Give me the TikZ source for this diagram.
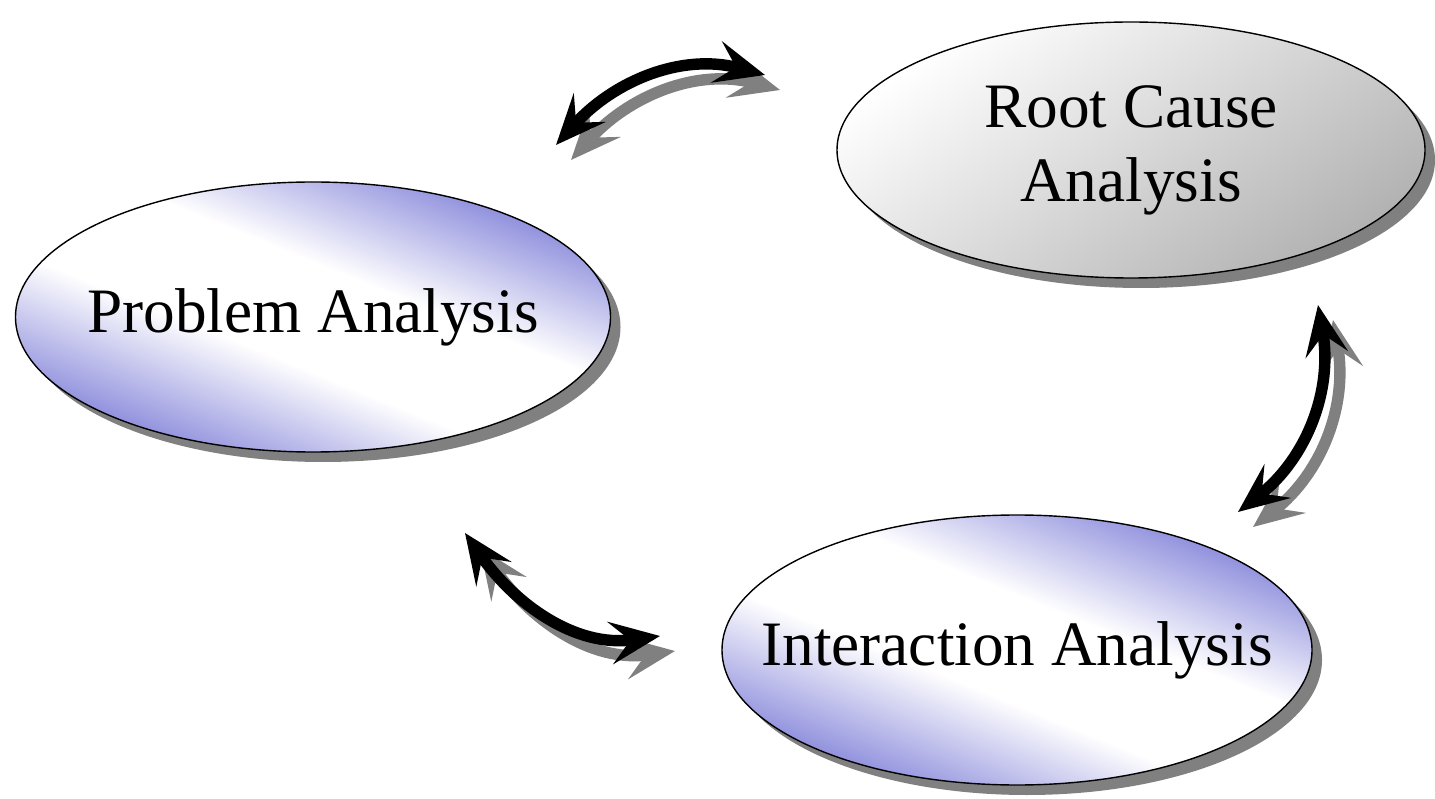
\documentclass[tikz,border=0pt]{standalone}
\usepackage{fontspec}
\setmainfont{Liberation Serif}
\usetikzlibrary{arrows.meta,shapes.geometric,shadows}

\definecolor{phaseblue}{RGB}{112,112,212}

\pgfdeclareverticalshading{phaseband}{100bp}{color(0bp)=(phaseblue); color(22bp)=(phaseblue);
	color(43bp)=(white); color(57bp)=(white); color(78bp)=(phaseblue); color(100bp)=(phaseblue)}

\tikzset{
	phase/.style={ellipse, draw=black, line width=0.8pt, inner sep=0pt,
		font=\fontsize{36}{42}\selectfont,
		drop shadow={shadow xshift=0.2cm, shadow yshift=-0.2cm, fill=black!50, opacity=1}},
	blue phase/.style={phase, shading=phaseband, shading angle=-22},
	grey phase/.style={phase, shading=axis, top color=white, bottom color=black!30, shading angle=35},
	link/.style={line width=6.5pt,
		{Stealth[length=1cm, width=0.85cm, inset=0.4cm]}-{Stealth[length=1cm, width=0.85cm, inset=0.4cm]}},
	link shadow/.style={link, draw=black!50, transform canvas={xshift=0.3cm, yshift=-0.3cm}}
}

\begin{document}
\begin{tikzpicture}
	\useasboundingbox (0,0) rectangle (28.7,15.96);

	\node (PA) at ( 6.26,  9.62)	[blue phase, minimum width=11.9cm, minimum height=5.4cm]	{\makebox[0pt]{Problem Analysis}};
	\node (RC) at (22.62, 12.96)	[grey phase, minimum width=11.76cm, minimum height=5.12cm]	{\makebox[0pt]{\begin{tabular}{@{}c@{}}Root Cause\\Analysis\end{tabular}}};
	\node (IA) at (20.34,  2.96)	[blue phase, minimum width=11.8cm, minimum height=5.4cm]	{\makebox[0pt]{Interaction Analysis}};

	\coordinate (A1) at (11.12, 13.06);
	\coordinate (B1) at (15.30, 14.46);
	\coordinate (A2) at ( 9.30,  5.30);
	\coordinate (B2) at (13.20,  3.24);
	\coordinate (A3) at (24.76,  5.72);
	\coordinate (B3) at (26.36,  9.86);

	\draw [link shadow] (A1) to [out=48, in=165] (B1);
	\draw [link] (A1) to [out=48, in=165] (B1);
	\draw [link shadow] (A2) to [out=-55, in=188] (B2);
	\draw [link] (A2) to [out=-55, in=188] (B2);
	\draw [link shadow] (A3) to [out=38, in=-80] (B3);
	\draw [link] (A3) to [out=38, in=-80] (B3);
\end{tikzpicture}
\end{document}
